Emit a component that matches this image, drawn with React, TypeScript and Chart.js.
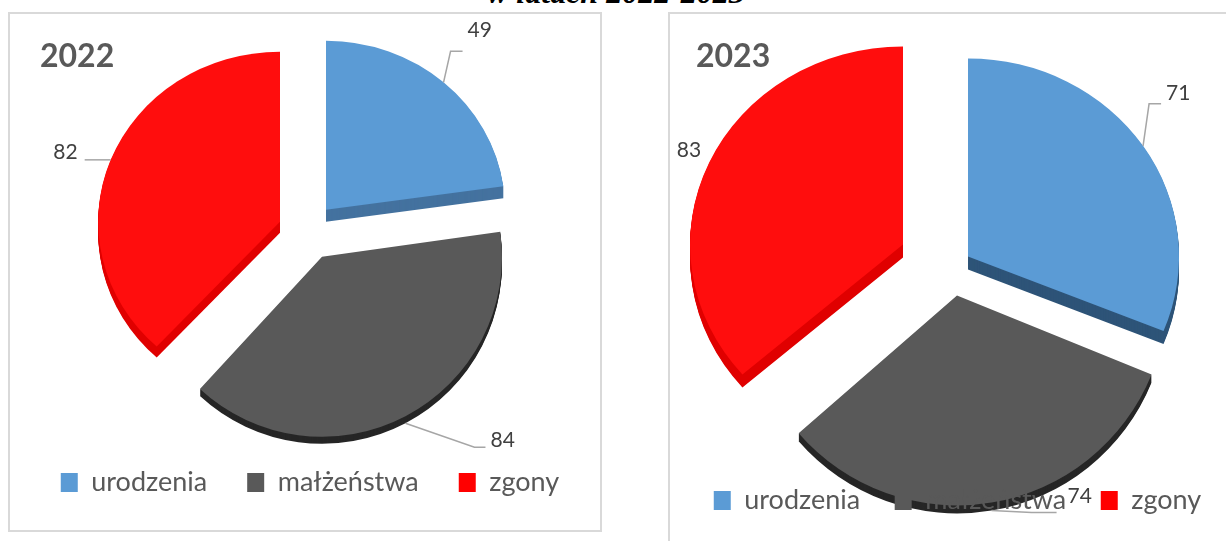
import React, { useEffect, useRef } from "react";
import { Chart, registerables } from "chart.js";

Chart.register(...registerables);

const categories = ["urodzenia", "małżeństwa", "zgony"];
const values2022 = [49, 84, 82];
const values2023 = [71, 74, 83];

const FONT = "Lato, 'Open Sans', sans-serif";
const TEXT = "#595959";
const colors = ["#5B9BD5", "#595959", "#FF0D0D"];
const legendColors = ["#5B9BD5", "#595959", "#FF0000"];

const view2022 = {
  radius: 180,
  titleInset: 31,
  legendPadding: 40,
  depthColors: ["#44729F", "#262626", "#E00000"],
  slices: [
    { dx: 16, dy: -42.5, sx: 0.995, sy: 0.938, depth: 12 },
    { dx: 12, dy: 4.5, sx: 1.0, sy: 1.0, depth: 7 },
    { dx: -30, dy: -30.5, sx: 1.01, sy: 0.944, depth: 11 },
  ],
  labels: [
    { ex: 7, ey: -31, tail: 12, lx: 5, ly: -21 },
    { ex: 69, ey: 24, tail: 11, lx: 5, ly: -7 },
    { ex: -26, ey: 0, tail: 0, lx: -7, ly: -8 },
  ],
};

const view2023 = {
  radius: 210,
  titleInset: 47,
  legendPadding: 34.5,
  depthColors: ["#2E5478", "#262626", "#E00000"],
  slices: [
    { dx: 10.5, dy: -7.5, sx: 1.005, sy: 0.943, depth: 13 },
    { dx: -0.5, dy: 31.5, sx: 1.0, sy: 1.0, depth: 8 },
    { dx: -54.5, dy: -19.5, sx: 1.014, sy: 0.943, depth: 13 },
  ],
  labels: [
    { ex: 6, ey: -42, tail: 12, lx: 5, ly: -11 },
    { ex: 40, ey: 2, tail: 25, lx: 11, ly: -16 },
    { ex: 0, ey: 0, tail: 0, lx: -8, ly: -12 },
  ],
};

function makeConfig(year: string, values: number[], view: any): any {
  const applySlice = (ctx: any, arc: any, s: any, shift: number) => {
    ctx.translate(arc.x + s.dx, arc.y + s.dy + shift);
    ctx.scale(s.sx, s.sy);
    ctx.translate(-arc.x, -arc.y);
  };
  const plugin = {
    id: "explodedPie",
    beforeUpdate(chart: any) {
      const legend = chart.legend;
      if (legend) legend._layers = () => [{ z: 1, draw: () => legend.draw() }];
    },
    afterLayout(chart: any) {
      if (chart.titleBlock) chart.titleBlock.left = view.titleInset;
    },
    beforeDatasetDraw(chart: any, args: any) {
      const ctx = chart.ctx;
      args.meta.data.forEach((arc: any, i: number) => {
        const s = view.slices[i];
        for (let d = s.depth; d >= 1; d--) {
          const ghost = Object.create(arc);
          ghost.options = { ...arc.options, backgroundColor: view.depthColors[i], borderWidth: 0 };
          ctx.save();
          applySlice(ctx, arc, s, d);
          ghost.draw(ctx);
          ctx.restore();
        }
      });
      args.meta.data.forEach((arc: any, i: number) => {
        ctx.save();
        applySlice(ctx, arc, view.slices[i], 0);
        arc.draw(ctx);
        ctx.restore();
      });
      return false;
    },
    afterDatasetsDraw(chart: any) {
      const ctx = chart.ctx;
      const meta = chart.getDatasetMeta(0);
      meta.data.forEach((arc: any, i: number) => {
        const s = view.slices[i];
        const l = view.labels[i];
        const mid = (arc.startAngle + arc.endAngle) / 2;
        const ax = arc.x + s.dx + Math.cos(mid) * arc.outerRadius * s.sx;
        const ay = arc.y + s.dy + Math.sin(mid) * arc.outerRadius * s.sy + (Math.sin(mid) > 0.5 ? s.depth : 0);
        const ex = ax + l.ex;
        const ey = ay + l.ey;
        const dir = l.ex < 0 ? -1 : 1;
        const tx = ex + dir * l.tail;
        ctx.save();
        if (l.ex !== 0 || l.ey !== 0) {
          ctx.strokeStyle = "#A6A6A6";
          ctx.lineWidth = 1.5;
          ctx.beginPath();
          ctx.moveTo(ax, ay);
          ctx.lineTo(ex, ey);
          ctx.lineTo(tx, ey);
          ctx.stroke();
        }
        ctx.fillStyle = "#404040";
        ctx.font = `21px ${FONT}`;
        ctx.textBaseline = "middle";
        ctx.textAlign = dir < 0 || l.ex === 0 ? "right" : "left";
        ctx.fillText(String(values[i]), tx + l.lx, ey + l.ly);
        ctx.restore();
      });
    },
  };
  return {
    type: "pie",
    data: {
      labels: categories,
      datasets: [{ data: values, backgroundColor: colors, borderWidth: 0 }],
    },
    plugins: [plugin],
    options: {
      animation: false,
      responsive: false,
      radius: view.radius,
      events: [],
      plugins: {
        tooltip: { enabled: false },
        title: {
          display: true,
          text: year,
          align: "start",
          color: TEXT,
          font: { family: FONT, size: 32, weight: "bold" },
          padding: { top: 24, bottom: 0 },
        },
        legend: {
          position: "bottom",
          labels: {
            boxWidth: 17,
            boxHeight: 19,
            padding: view.legendPadding,
            color: TEXT,
            font: { family: FONT, size: 27 },
            generateLabels: () =>
              categories.map((text, i) => ({
                text,
                fillStyle: legendColors[i],
                strokeStyle: legendColors[i],
                lineWidth: 0,
                index: i,
                fontColor: TEXT,
              })),
          },
        },
      },
    },
  };
}

function PieCanvas({ year, values, view, style, width, height }: any) {
  const ref = useRef<HTMLCanvasElement | null>(null);
  useEffect(() => {
    const chart = new Chart(ref.current as HTMLCanvasElement, makeConfig(year, values, view));
    return () => chart.destroy();
  }, []);
  return <canvas ref={ref} width={width} height={height} style={{ position: "absolute", ...style }} />;
}

export default function App() {
  const border = "2px solid #D9D9D9";
  return (
    <div style={{ position: "absolute", left: 0, top: 0, width: 1226, height: 541, overflow: "hidden", background: "#fff" }}>
      <div
        style={{
          position: "absolute",
          left: 487,
          top: -23,
          width: 270,
          whiteSpace: "nowrap",
          fontFamily: "'Liberation Serif', serif",
          fontWeight: "bold",
          fontStyle: "italic",
          fontSize: 32,
          lineHeight: "30px",
          color: "#000",
        }}
      >
        w latach 2022-2023
      </div>
      <div style={{ position: "absolute", left: 8, top: 12, width: 590, height: 516, border }} />
      <div style={{ position: "absolute", left: 668, top: 12, width: 700, height: 700, border }} />
      <PieCanvas year="2022" values={values2022} view={view2022} width={602} height={493} style={{ left: 9, top: 13 }} />
      <PieCanvas year="2023" values={values2023} view={view2023} width={617} height={511} style={{ left: 649, top: 13 }} />
    </div>
  );
}
